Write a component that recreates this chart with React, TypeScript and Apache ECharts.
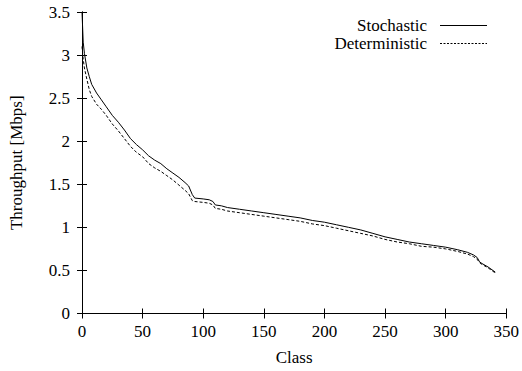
import React, { useEffect, useRef } from "react";
import * as echarts from "echarts";

const classX = [0, 1, 2, 4, 6, 8, 12, 16, 20, 25, 30, 35, 40, 45, 50, 55, 60, 65, 70, 75, 80, 85, 88, 91, 93, 100, 105, 108, 110, 115, 120, 130, 140, 150, 160, 170, 180, 190, 200, 210, 220, 230, 240, 250, 260, 270, 280, 290, 300, 310, 318, 323, 326, 328, 330, 335, 341];
const stochastic = [3.5, 3.15, 3.02, 2.85, 2.75, 2.66, 2.56, 2.48, 2.40, 2.30, 2.22, 2.13, 2.03, 1.96, 1.90, 1.83, 1.78, 1.74, 1.68, 1.63, 1.58, 1.52, 1.48, 1.38, 1.34, 1.33, 1.32, 1.30, 1.26, 1.25, 1.23, 1.21, 1.19, 1.17, 1.15, 1.13, 1.11, 1.08, 1.06, 1.03, 1.00, 0.97, 0.93, 0.89, 0.86, 0.83, 0.81, 0.79, 0.77, 0.74, 0.71, 0.68, 0.65, 0.60, 0.58, 0.54, 0.48];
const deterministic = [3.1, 2.95, 2.85, 2.72, 2.60, 2.52, 2.43, 2.37, 2.30, 2.20, 2.12, 2.03, 1.94, 1.87, 1.82, 1.74, 1.69, 1.65, 1.60, 1.55, 1.49, 1.43, 1.39, 1.31, 1.30, 1.29, 1.28, 1.26, 1.22, 1.21, 1.19, 1.17, 1.15, 1.13, 1.11, 1.09, 1.07, 1.04, 1.02, 0.99, 0.96, 0.93, 0.90, 0.86, 0.83, 0.81, 0.78, 0.77, 0.75, 0.72, 0.69, 0.66, 0.63, 0.59, 0.57, 0.53, 0.47];
const seriesNames = ["Stochastic", "Deterministic"];

const FONT = "'Liberation Serif', 'Times New Roman', serif";
const FS = 17;

export default function App() {
  const ref = useRef<HTMLDivElement>(null);
  useEffect(() => {
    if (!ref.current) return;
    const chart = echarts.init(ref.current, undefined, { renderer: "svg" });
    const axisLine = { show: true, lineStyle: { color: "#000", width: 1 } };
    const tick = { show: true, inside: true, length: 5, lineStyle: { color: "#000" } };
    const lbl = { color: "#000", fontFamily: FONT, fontSize: FS };
    chart.setOption({
      animation: false,
      backgroundColor: "#fff",
      grid: { left: 80.5, right: 14, top: 12, bottom: 57.5 },
      xAxis: [
        {
          type: "value", min: 0, max: 350, interval: 50, position: "bottom",
          axisLine, axisTick: tick, splitLine: { show: false },
          axisLabel: { ...lbl, margin: 9 },
          name: "Class", nameLocation: "middle", nameGap: 35,
          nameTextStyle: { ...lbl },
        },
        {
          type: "value", min: 0, max: 350, interval: 50, position: "top",
          axisLine, axisTick: tick, splitLine: { show: false }, axisLabel: { show: false },
        },
      ],
      yAxis: [
        {
          type: "value", min: 0, max: 3.5, interval: 0.5, position: "left",
          axisLine, axisTick: tick, splitLine: { show: false },
          axisLabel: { ...lbl, margin: 12 },
          name: "Throughput [Mbps]", nameLocation: "middle", nameGap: 57,
          nameTextStyle: { ...lbl },
        },
        {
          type: "value", min: 0, max: 3.5, interval: 0.5, position: "right",
          axisLine, axisTick: tick, splitLine: { show: false }, axisLabel: { show: false },
        },
      ],
      series: [
        {
          name: seriesNames[0], type: "line", showSymbol: false,
          data: classX.map((x, i) => [x, stochastic[i]]),
          lineStyle: { color: "#000", width: 1 },
        },
        {
          name: seriesNames[1], type: "line", showSymbol: false,
          data: classX.map((x, i) => [x, deterministic[i]]),
          lineStyle: { color: "#000", width: 1, type: [3, 2] },
        },
      ],
      graphic: [
        { type: "text", x: 427, y: 25, style: { text: seriesNames[0], fontFamily: FONT, fontSize: FS, fill: "#000", align: "right", verticalAlign: "middle" } },
        { type: "line", shape: { x1: 440, y1: 25.5, x2: 487, y2: 25.5 }, style: { stroke: "#000", lineWidth: 1 } },
        { type: "text", x: 427, y: 43, style: { text: seriesNames[1], fontFamily: FONT, fontSize: FS, fill: "#000", align: "right", verticalAlign: "middle" } },
        { type: "line", shape: { x1: 440, y1: 43.5, x2: 487, y2: 43.5 }, style: { stroke: "#000", lineWidth: 1, lineDash: [2, 1.5] } },
      ],
    });
    return () => chart.dispose();
  }, []);
  return <div ref={ref} style={{ width: 522, height: 371, position: "absolute", left: 0, top: 0 }} />;
}
